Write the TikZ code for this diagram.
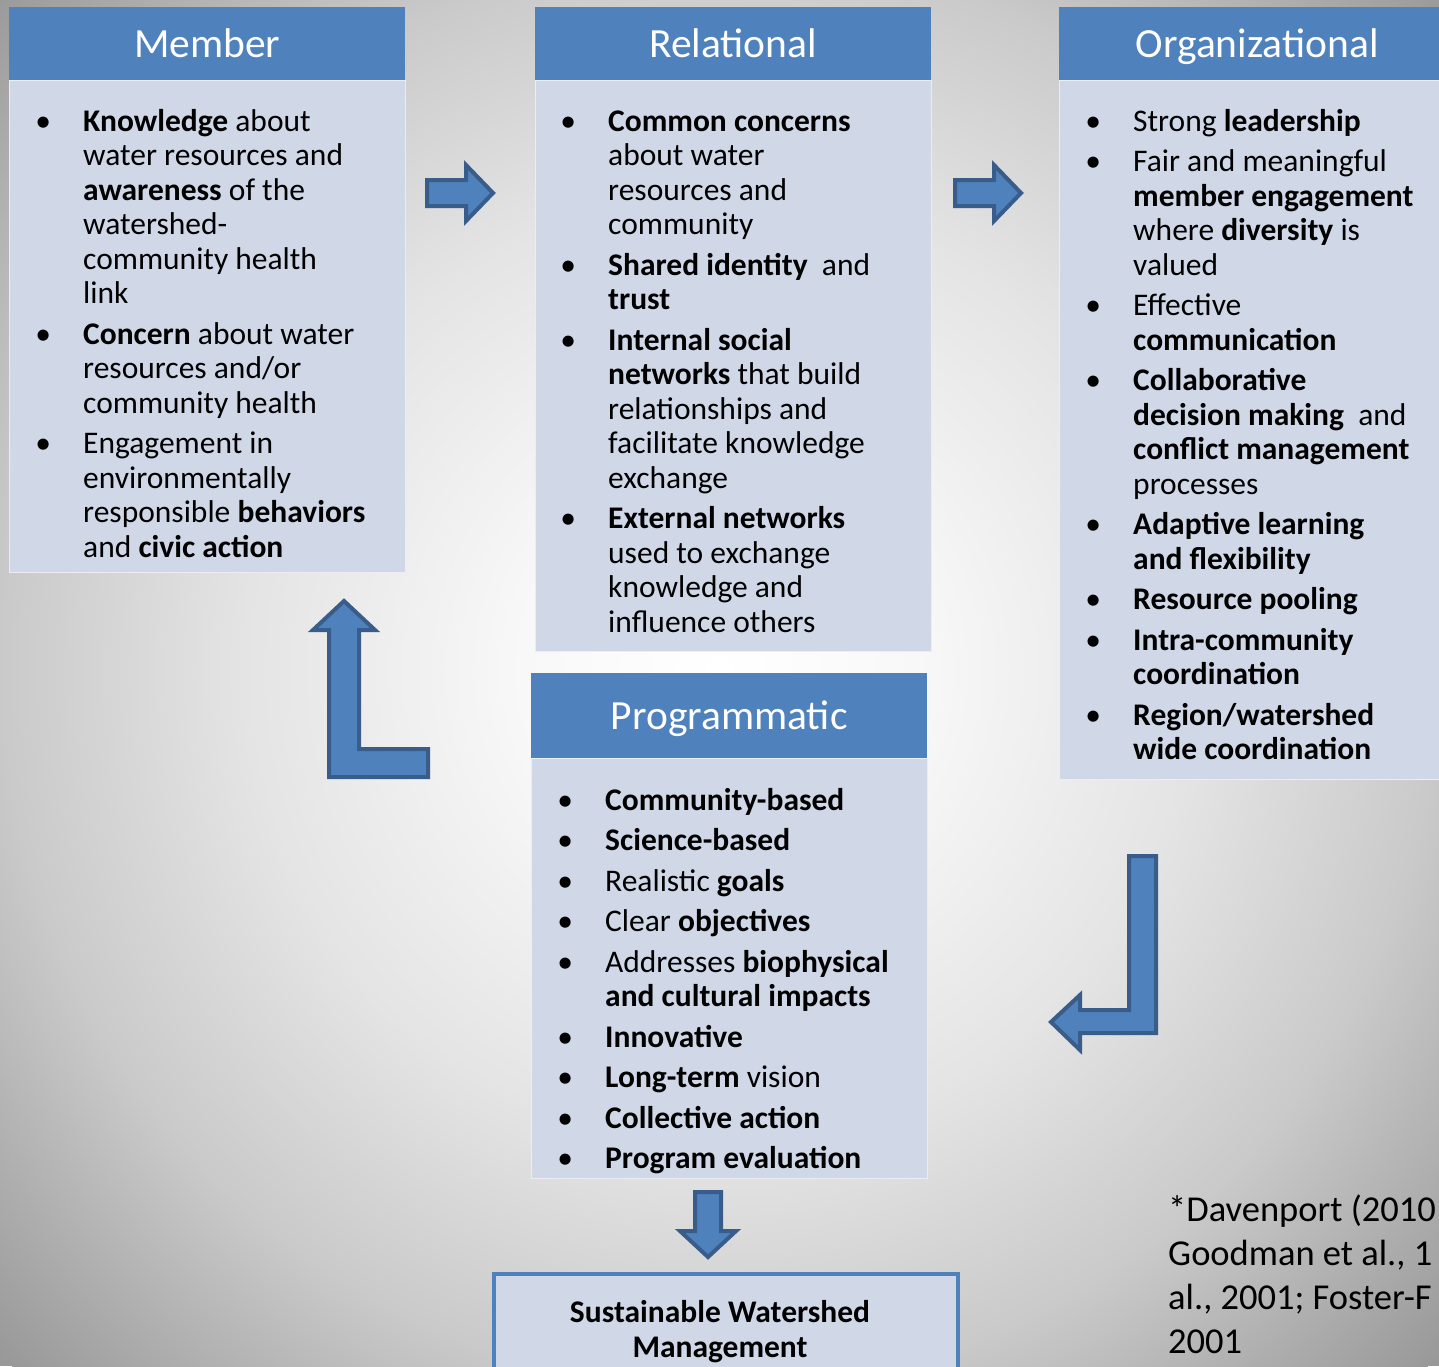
\documentclass[tikz,border=0pt]{standalone}
\usepackage{fontspec}
\setmainfont{Carlito}

\definecolor{hdrblue}{HTML}{4F81BD}
\definecolor{arrowedge}{HTML}{385D8A}
\definecolor{bodyfill}{HTML}{D0D8E8}
\definecolor{bginner}{HTML}{F8F8F8}
\definecolor{bgnear}{HTML}{E4E4E4}
\definecolor{bgmid}{HTML}{CACACA}
\definecolor{bgedge}{HTML}{999999}
% radial backdrop for the slide
\pgfdeclareradialshading{slidebg}{\pgfpoint{0bp}{0bp}}{%
  color(0bp)=(white); color(5bp)=(bginner); color(12bp)=(bgnear);
  color(18bp)=(bgmid); color(25bp)=(bgedge); color(50bp)=(bgedge)}

% bullet list helpers
\newcommand\listfont{\fontsize{31.5pt}{34.5pt}\selectfont}
\newcommand\firstpt{\noindent\llap{\makebox[0pt][c]{\textbullet}\hspace{40pt}}}
\newcommand\nextpt{\par\vspace{6pt}\firstpt}
\newcommand\pointlist[1]{\parbox[t]{360pt}{\listfont\raggedright #1}}

\begin{document}
\begin{tikzpicture}[x=1pt,y=-1pt,
  hdr/.style={fill=hdrblue, minimum width=396pt, anchor=north west, inner sep=0pt,
    text=white, font=\fontsize{41.5pt}{48pt}\selectfont, text height=32pt, text depth=4pt},
  panel/.style={fill=bodyfill, draw=white!55!bodyfill, line width=1.2pt,
    minimum width=396pt, anchor=north west, inner sep=0pt},
  listtext/.style={anchor=base west, inner sep=0pt},
  blockarrow/.style={fill=hdrblue, draw=arrowedge, line width=4pt, line join=miter}]

\useasboundingbox (0,0) rectangle (1439,1366);
\clip (0,0) rectangle (1439,1366);
\fill[bgedge] (0,0) rectangle (1439,1366);
\shade[shading=slidebg] (720,670) circle[radius=993pt];

% ---- Member ----
\node[panel, minimum height=492pt] (memB) at (9,80) {};
\node[hdr, minimum height=73pt] (memH) at (9,7) {Member};
\node[listtext] (memT) at (83,131) {\pointlist{%
  \firstpt\textbf{Knowledge} about\\ water resources and\\ \textbf{awareness} of the\\ watershed-\\ community health\\ link
  \nextpt\textbf{Concern} about water\\ resources and/or\\ community health
  \nextpt Engagement in\\ environmentally\\ responsible \textbf{behaviors}\\ and \textbf{civic action}}};

% ---- Relational ----
\node[panel, minimum height=571pt] (relB) at (535,80) {};
\node[hdr, minimum height=73pt] (relH) at (535,7) {Relational};
\node[listtext] (relT) at (608,131) {\pointlist{%
  \firstpt\textbf{Common concerns}\\ about water\\ resources and\\ community
  \nextpt\textbf{Shared identity}~ and\\ \textbf{trust}
  \nextpt\textbf{Internal social}\\ \textbf{networks} that build\\ relationships and\\ facilitate knowledge\\ exchange
  \nextpt\textbf{External networks}\\ used to exchange\\ knowledge and\\ influence others}};

% ---- Organizational ----
\node[panel, minimum height=699pt] (orgB) at (1059,80) {};
\node[hdr, minimum height=73pt] (orgH) at (1059,7) {Organizational};
\node[listtext] (orgT) at (1133,131) {\pointlist{%
  \firstpt Strong \textbf{leadership}
  \nextpt Fair and meaningful\\ \textbf{member engagement}\\ where \textbf{diversity} is\\ valued
  \nextpt Effective\\ \textbf{communication}
  \nextpt\textbf{Collaborative}\\ \textbf{decision making}~ and\\ \textbf{conflict management}\\ processes
  \nextpt\textbf{Adaptive learning}\\ \textbf{and flexibility}
  \nextpt\textbf{Resource pooling}
  \nextpt\textbf{Intra-community}\\ \textbf{coordination}
  \nextpt\textbf{Region/watershed}\\ \textbf{wide coordination}}};

% ---- Programmatic ----
\node[panel, minimum height=420pt] (proB) at (531,758) {};
\node[hdr, minimum height=85pt] (proH) at (531,673) {Programmatic};
\node[listtext] (proT) at (605,810) {\pointlist{%
  \firstpt\textbf{Community-based}
  \nextpt\textbf{Science-based}
  \nextpt Realistic \textbf{goals}
  \nextpt Clear \textbf{objectives}
  \nextpt Addresses \textbf{biophysical}\\ \textbf{and cultural impacts}
  \nextpt\textbf{Innovative}
  \nextpt\textbf{Long-term} vision
  \nextpt\textbf{Collective action}
  \nextpt\textbf{Program evaluation}}};

% ---- outcome box ----
\node[draw=hdrblue, line width=4pt, fill=bodyfill, minimum width=464pt,
  minimum height=130pt, anchor=north west, inner sep=0pt] (swm) at (492,1272) {};
\node[anchor=base, inner sep=0pt] (swmT) at (720,1322) {\parbox[t]{440pt}{\centering
  \fontsize{31.5pt}{35pt}\selectfont\bfseries Sustainable Watershed\\ Management}};

% ---- sources ----
\node[listtext] (cite) at (1168,1221) {\parbox[t]{400pt}{\fontsize{36.5pt}{44pt}\selectfont\raggedright
  *Davenport (2010\\ Goodman et al., 1\\ al., 2001; Foster-F\\ 2001}};

% ---- block arrows ----
\draw[blockarrow] (427,180) -- (466,180) -- (466,165) -- (493,193) -- (466,221)
  -- (466,206) -- (427,206) -- cycle;
\draw[blockarrow] (955,180) -- (994,180) -- (994,165) -- (1021,193) -- (994,221)
  -- (994,206) -- (955,206) -- cycle;
\draw[blockarrow] (344,601) -- (375,630) -- (359,630) -- (359,749) -- (428,749)
  -- (428,777) -- (329,777) -- (329,630) -- (313,630) -- cycle;
\draw[blockarrow] (1129,856) -- (1156,856) -- (1156,1033) -- (1080,1033) -- (1080,1050)
  -- (1051,1022) -- (1080,995) -- (1080,1010) -- (1129,1010) -- cycle;
\draw[blockarrow] (695,1192) -- (721,1192) -- (721,1231) -- (736,1231) -- (708,1257)
  -- (680,1231) -- (695,1231) -- cycle;
\end{tikzpicture}
\end{document}
